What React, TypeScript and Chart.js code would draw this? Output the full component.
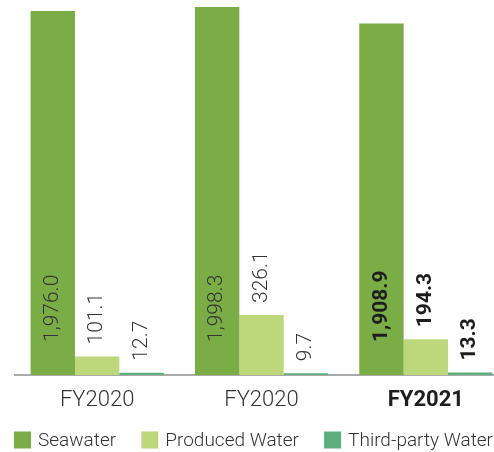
import React, { useEffect, useRef } from "react";
import { Chart, registerables } from "chart.js";

Chart.register(...registerables);

const categories = ["FY2020", "FY2020", "FY2021"];
const seawater = [1976.0, 1998.3, 1908.9];
const produced = [101.1, 326.1, 194.3];
const thirdParty = [12.7, 9.7, 13.3];
const boldCategory = [false, false, true];
const seriesNames = ["Seawater", "Produced Water", "Third-party Water"];
const seriesColors = ["#7aad45", "#bcd87b", "#5fae7e"];

const FONT = "Roboto, 'Open Sans', sans-serif";

const fmt = (v: number) =>
  v.toLocaleString("en-US", { minimumFractionDigits: 1, maximumFractionDigits: 1 });

const valueLabels = {
  id: "valueLabels",
  afterDatasetsDraw(chart: any) {
    const ctx = chart.ctx;
    const axisY = chart.chartArea.bottom;
    chart.data.datasets.forEach((ds: any, i: number) => {
      const meta = chart.getDatasetMeta(i);
      meta.data.forEach((el: any, j: number) => {
        const bold = boldCategory[j];
        const y = i === 0 ? axisY - 33 : el.y - 12;
        ctx.save();
        ctx.translate(el.x, y);
        ctx.rotate(-Math.PI / 2);
        ctx.textAlign = "left";
        ctx.textBaseline = "middle";
        ctx.fillStyle = bold ? "#1e1e1e" : "#333333";
        ctx.font = `${bold ? "bold" : "300"} 21px ${FONT}`;
        ctx.fillText(fmt(ds.data[j]), 0, 0);
        ctx.restore();
      });
    });
  },
};

// Single-row legend drawn under the axis labels, spread across the visible width
const rowLegend = {
  id: "rowLegend",
  afterDraw(chart: any) {
    const ctx = chart.ctx;
    const box = 17;
    const textGap = 7;
    const left = 14;
    const right = 493;
    ctx.save();
    ctx.font = `300 19px ${FONT}`;
    const items = chart.data.datasets.map((ds: any) => ({
      label: ds.label,
      color: ds.backgroundColor,
      w: ctx.measureText(ds.label).width,
    }));
    const content = items.reduce((s: number, it: any) => s + box + textGap + it.w, 0);
    const itemGap = Math.max(10, (right - left - content) / (items.length - 1));
    let x = left;
    const cy = chart.chartArea.bottom + 65;
    items.forEach((it: any) => {
      ctx.fillStyle = it.color;
      ctx.fillRect(x, cy - box / 2, box, box);
      ctx.fillStyle = "#333333";
      ctx.textAlign = "left";
      ctx.textBaseline = "middle";
      ctx.fillText(it.label, x + box + textGap, cy + 1);
      x += box + textGap + it.w + itemGap;
    });
    ctx.restore();
  },
};

export default function App() {
  const ref = useRef<HTMLCanvasElement | null>(null);
  useEffect(() => {
    document.body.style.margin = "0";
    const canvas = ref.current!;
    const chart = new Chart(canvas, {
      type: "bar",
      data: {
        labels: categories,
        datasets: [seawater, produced, thirdParty].map((d, i) => ({
          label: seriesNames[i],
          data: d,
          backgroundColor: seriesColors[i],
          borderWidth: 0,
          barPercentage: 1,
          categoryPercentage: 0.81,
        })),
      },
      options: {
        responsive: false,
        animation: false,
        layout: { padding: { left: 15, right: 0, top: 0, bottom: 44 } },
        plugins: {
          tooltip: { enabled: false },
          legend: { display: false },
        },
        scales: {
          y: { display: false, min: 0, max: 2036 },
          x: {
            grid: { display: false, drawTicks: false },
            border: { display: true, color: "#aaaaaa", width: 2 },
            ticks: {
              padding: 12,
              color: (c: any) => (boldCategory[c.index] ? "#1e1e1e" : "#333333"),
              font: (c: any) => ({
                family: FONT,
                size: 22,
                weight: boldCategory[c.index] ? "bold" : "300",
              }),
            },
            afterFit: (s: any) => {
              s.height = 33;
            },
          },
        },
      },
      plugins: [valueLabels, rowLegend],
    });
    return () => chart.destroy();
  }, []);
  return (
    <div style={{ width: 494, height: 452, overflow: "hidden", position: "relative" }}>
      <canvas ref={ref} width={508} height={452} style={{ display: "block" }} />
    </div>
  );
}
